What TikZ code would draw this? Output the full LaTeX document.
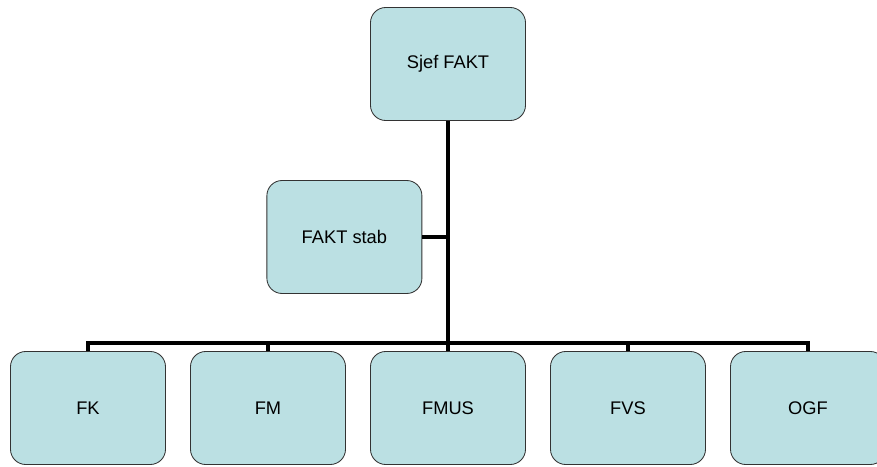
\documentclass[tikz,border=0pt]{standalone}
\usepackage{fontspec}
\setmainfont{Liberation Sans}
\definecolor{unitfill}{RGB}{187,224,227}

\begin{document}
\begin{tikzpicture}[unit/.style={draw=black!80, line width=0.6pt, fill=unitfill, rounded corners=0.38cm,
    minimum width=3.875cm, minimum height=2.825cm, font=\fontsize{13}{15}\selectfont},
  conn/.style={line width=2.4pt}]
  \useasboundingbox (0,0) rectangle (21.925,11.65);
  \clip (0,0) rectangle (21.925,11.65);
  % top and staff
  \node[unit] (sjef) at (11.2,10.05) {Sjef FAKT};
  \node[unit] (stab) at (8.61,5.725) {FAKT stab};
  % departments
  \node[unit] (fk)   at (2.2,1.45)   {FK};
  \node[unit] (fm)   at (6.7,1.45)   {FM};
  \node[unit] (fmus) at (11.2,1.45)  {FMUS};
  \node[unit] (fvs)  at (15.7,1.45)  {FVS};
  \node[unit] (ogf)  at (20.2,1.45)  {OGF};
  \coordinate (bus) at (11.2,3.075);
  \draw[conn] (sjef.south) -- (bus);
  \draw[conn] (stab.east) -- (stab.east -| sjef.south);
  \draw[conn] (fk.north) |- (bus) -| (ogf.north);
  \foreach \u in {fm,fmus,fvs}
    \draw[conn] (\u.north) -- (\u.north |- bus);
\end{tikzpicture}
\end{document}
